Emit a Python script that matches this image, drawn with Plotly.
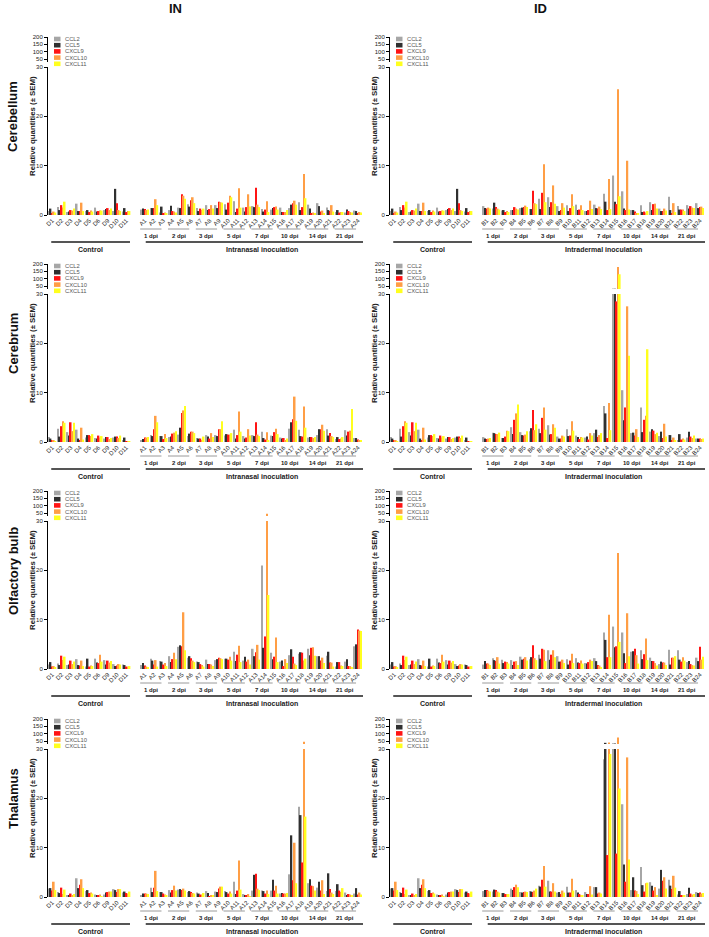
import plotly.graph_objects as go

W, H = 709, 937
FONT = "Arial, Liberation Sans, sans-serif"

SERIES = ["CCL2", "CCL5", "CXCL9", "CXCL10", "CXCL11"]
COLORS = ["#A6A6A6", "#303030", "#FF1414", "#FF9E45", "#FFFF1E"]

CONTROL_LABELS = ["D1", "D2", "D3", "D4", "D5", "D6", "D9", "D10", "D11"]
IN_LABELS = ["A1", "A2", "A3", "A4", "A5", "A6", "A7", "A8", "A9", "A10", "A11", "A12",
             "A13", "A14", "A15", "A16", "A17", "A18", "A19", "A20", "A21", "A22", "A23", "A24"]
ID_LABELS = ["B1", "B2", "B3", "B4", "B5", "B6", "B7", "B8", "B9", "B10", "B11", "B12",
             "B13", "B14", "B15", "B16", "B17", "B18", "B19", "B20", "B21", "B22", "B23", "B24"]
DPI_LABELS = ["1 dpi", "2 dpi", "3 dpi", "5 dpi", "7 dpi", "10 dpi", "14 dpi", "21 dpi"]
REGIONS = ["Cerebellum", "Cerebrum", "Olfactory bulb", "Thalamus"]
COLUMN_TITLES = ["IN", "ID"]
GROUP_NAMES = ["Intranasal inoculation", "Intradermal inoculation"]
Y_TICKS_LOW = [0, 10, 20, 30]
Y_TICKS_HIGH = [50, 100, 150, 200]

# each tuple: (CCL2, CCL5, CXCL9, CXCL10, CXCL11)
cerebellum_ctrl = [
    (0.8, 1.3, 0.4, 0.7, 0.5), (1.6, 1.0, 2.0, 1.5, 2.7), (0.6, 0.7, 1.0, 0.9, 1.3),
    (2.3, 0.8, 0.8, 2.5, 0.8), (0.8, 1.0, 0.6, 0.9, 0.7), (1.5, 0.7, 0.8, 0.9, 0.9),
    (1.0, 1.2, 1.4, 1.0, 1.3), (0.8, 5.3, 2.4, 1.0, 0.8), (0.7, 1.4, 0.6, 0.8, 0.8),
]
cerebellum_in = [
    (1.1, 1.3, 1.2, 1.0, 1.1), (1.4, 1.4, 1.4, 3.2, 2.0), (0.5, 1.7, 0.3, 0.5, 0.4),
    (1.0, 1.9, 0.8, 0.7, 0.5), (1.5, 1.4, 4.2, 3.9, 3.3), (2.2, 1.7, 3.0, 3.6, 2.4),
    (1.4, 0.8, 1.3, 1.0, 1.3), (2.0, 1.0, 1.2, 2.0, 1.3), (2.0, 1.4, 2.7, 2.6, 2.5),
    (2.2, 1.1, 2.5, 3.9, 3.6), (2.8, 0.6, 1.3, 5.4, 1.5), (1.5, 0.7, 1.6, 4.2, 1.7),
    (1.8, 1.6, 5.5, 2.1, 1.6), (1.2, 0.7, 1.1, 2.8, 0.6), (1.1, 1.4, 1.6, 1.7, 1.1),
    (1.5, 0.6, 0.6, 0.6, 1.0), (1.4, 2.1, 2.4, 2.9, 2.1), (2.6, 1.0, 1.6, 8.3, 3.4),
    (2.1, 1.3, 0.4, 0.5, 0.4), (2.4, 1.8, 0.7, 0.9, 0.4), (1.5, 1.0, 0.8, 2.0, 0.7),
    (0.6, 1.0, 0.5, 0.6, 0.6), (0.5, 1.1, 0.8, 0.6, 0.5), (0.9, 0.8, 0.4, 0.6, 0.5),
]
cerebellum_id = [
    (1.8, 1.4, 1.3, 1.5, 1.3), (1.3, 2.5, 1.6, 1.3, 1.1), (0.9, 1.0, 0.6, 0.8, 0.6),
    (1.0, 1.0, 1.6, 1.3, 1.1), (1.4, 1.5, 1.6, 1.9, 1.6), (1.2, 1.2, 4.9, 2.4, 2.2),
    (3.3, 1.2, 4.5, 10.3, 2.6), (3.6, 1.6, 2.6, 6.0, 2.3), (1.8, 0.8, 1.0, 2.4, 1.5),
    (2.0, 0.8, 1.4, 4.2, 1.8), (2.1, 1.0, 1.1, 2.0, 1.0), (0.8, 0.8, 1.0, 2.9, 1.2),
    (2.1, 1.4, 1.3, 1.7, 1.2), (4.3, 2.7, 1.0, 7.3, 1.2), (8.0, 2.7, 2.2, 25.5, 3.8),
    (4.8, 1.3, 1.0, 11.0, 1.1), (1.0, 1.0, 0.7, 0.4, 0.4), (2.0, 0.6, 0.7, 0.5, 0.8),
    (2.6, 1.0, 2.2, 2.3, 1.3), (1.3, 0.8, 0.8, 1.3, 0.9), (3.7, 1.0, 0.4, 2.4, 0.6),
    (1.8, 1.1, 1.1, 1.1, 0.8), (2.0, 1.3, 1.8, 1.5, 1.4), (2.4, 1.4, 1.6, 1.7, 1.4),
]
cerebrum_ctrl = [
    (1.0, 0.7, 0.3, 0.3, 0.2), (2.7, 1.1, 3.2, 4.2, 3.9), (2.0, 1.3, 4.0, 2.2, 3.9),
    (2.5, 0.7, 0.4, 2.9, 0.5), (0.9, 1.4, 1.4, 1.2, 1.6), (0.8, 0.7, 1.3, 0.9, 1.2),
    (0.7, 1.0, 1.0, 0.6, 0.8), (0.9, 1.1, 1.1, 0.8, 1.3), (0.3, 0.9, 0.2, 0.2, 0.2),
]
cerebrum_in = [
    (0.4, 0.6, 0.9, 0.9, 1.0), (1.4, 1.2, 2.6, 5.3, 4.0), (1.2, 1.2, 0.6, 1.6, 0.8),
    (1.0, 1.1, 1.7, 1.9, 2.2), (1.5, 2.9, 5.9, 6.4, 7.3), (1.2, 1.7, 2.1, 2.1, 1.8),
    (0.8, 0.7, 0.7, 0.4, 1.1), (1.4, 1.1, 0.7, 1.8, 1.0), (1.4, 1.2, 2.6, 2.6, 4.2),
    (1.3, 1.6, 1.5, 1.5, 1.8), (2.5, 0.7, 1.4, 6.2, 2.1), (1.2, 0.7, 0.9, 2.6, 1.3),
    (1.4, 1.2, 4.0, 1.5, 1.2), (2.1, 0.8, 0.5, 2.0, 0.4), (1.3, 1.2, 2.0, 2.7, 1.6),
    (0.9, 0.7, 0.8, 0.3, 0.7), (2.7, 4.0, 4.6, 9.2, 4.3), (2.5, 1.2, 1.1, 7.2, 2.9),
    (0.9, 1.0, 1.0, 0.8, 1.0), (1.4, 2.6, 2.6, 3.5, 2.3), (2.6, 1.3, 1.8, 1.2, 1.0),
    (0.6, 1.0, 0.6, 0.7, 1.0), (2.4, 1.3, 2.1, 2.3, 6.7), (0.8, 0.8, 0.5, 0.3, 0.3),
]
cerebrum_id = [
    (1.0, 0.7, 0.6, 0.7, 0.8), (1.9, 1.8, 1.6, 1.6, 1.9), (0.8, 0.8, 1.1, 2.3, 2.2),
    (3.0, 1.6, 4.5, 5.8, 7.6), (2.0, 1.4, 1.3, 1.5, 2.2), (2.2, 2.8, 6.5, 2.4, 3.6),
    (2.7, 1.8, 4.9, 7.0, 2.5), (3.4, 1.5, 1.6, 3.6, 2.9), (1.1, 0.7, 0.7, 1.3, 1.1),
    (2.6, 1.2, 1.3, 4.2, 2.3), (1.3, 1.0, 0.6, 1.0, 0.9), (0.9, 1.1, 0.5, 1.8, 1.3),
    (1.8, 2.5, 1.0, 1.4, 1.8), (7.3, 5.8, 0.8, 7.9, 2.4), (33.0, 31.0, 28.5, 180.0, 130.0),
    (10.5, 4.4, 7.0, 27.5, 17.5), (1.8, 1.9, 1.3, 2.6, 1.0), (7.0, 2.0, 4.5, 5.3, 18.8),
    (2.1, 2.6, 2.3, 1.6, 1.9), (1.2, 2.1, 0.8, 3.7, 1.1), (1.4, 1.4, 0.3, 0.9, 0.4),
    (0.3, 1.6, 0.5, 0.7, 0.5), (0.9, 2.1, 1.1, 0.8, 1.3), (0.7, 0.7, 0.7, 0.6, 0.7),
]
olfactory_ctrl = [
    (0.9, 1.4, 0.5, 0.6, 0.4), (1.1, 0.8, 2.7, 1.8, 2.5), (0.8, 0.9, 1.7, 1.0, 1.5),
    (2.0, 0.8, 0.7, 1.7, 0.6), (0.5, 2.1, 0.5, 0.7, 0.6), (2.1, 1.3, 1.2, 2.9, 1.5),
    (1.8, 0.9, 1.7, 1.3, 1.6), (1.0, 0.6, 0.7, 1.0, 0.9), (0.9, 0.8, 0.5, 0.5, 0.6),
]
olfactory_in = [
    (0.8, 1.2, 0.7, 0.5, 0.3), (2.1, 1.7, 0.9, 1.8, 0.5), (1.6, 1.5, 0.9, 1.2, 0.6),
    (2.6, 1.4, 2.0, 3.3, 2.0), (4.5, 4.8, 4.6, 11.5, 3.8), (2.3, 2.6, 2.2, 1.7, 1.4),
    (1.5, 1.4, 1.0, 0.8, 0.5), (1.9, 1.0, 1.0, 0.9, 0.6), (1.8, 2.0, 2.3, 2.2, 2.0),
    (2.1, 2.1, 1.9, 2.5, 1.7), (3.5, 1.6, 2.9, 4.7, 1.4), (1.7, 2.5, 1.5, 1.9, 0.9),
    (4.1, 2.6, 3.4, 4.9, 1.9), (21.0, 4.3, 6.6, 45.0, 15.0), (3.3, 2.0, 2.5, 6.4, 1.4),
    (1.5, 1.7, 0.6, 2.0, 1.2), (2.8, 4.0, 2.5, 1.1, 0.8), (3.1, 3.4, 3.3, 1.7, 2.1),
    (4.1, 2.8, 4.3, 4.4, 2.7), (2.6, 2.6, 1.7, 2.3, 1.2), (2.7, 3.5, 1.3, 1.3, 0.5),
    (0.5, 1.4, 1.4, 0.7, 0.6), (1.5, 2.0, 0.6, 0.6, 0.4), (4.6, 5.0, 8.0, 7.8, 7.7),
]
olfactory_id = [
    (0.9, 1.6, 1.1, 1.1, 0.8), (2.2, 1.8, 1.6, 2.4, 1.1), (1.9, 1.2, 1.5, 1.4, 1.1),
    (1.8, 0.8, 1.5, 1.6, 0.8), (2.5, 1.9, 2.1, 2.4, 1.7), (2.0, 2.4, 4.8, 2.2, 1.8),
    (2.9, 2.1, 4.1, 3.9, 1.6), (3.8, 1.9, 2.9, 3.8, 2.4), (2.6, 1.5, 1.5, 1.9, 1.2),
    (2.0, 0.9, 1.7, 3.1, 1.2), (2.2, 1.3, 1.2, 1.7, 1.1), (1.2, 1.1, 1.4, 1.9, 1.6),
    (2.2, 1.6, 0.8, 0.7, 0.4), (7.4, 5.9, 2.4, 11.0, 2.4), (8.6, 4.4, 4.6, 23.5, 5.5),
    (7.4, 3.2, 1.2, 11.3, 2.6), (3.5, 3.6, 4.1, 2.8, 1.1), (3.8, 2.0, 3.0, 6.2, 1.8),
    (2.3, 1.6, 1.6, 1.2, 0.7), (1.0, 1.5, 1.3, 1.3, 0.8), (3.9, 0.9, 2.3, 2.3, 2.6),
    (3.8, 1.9, 1.5, 2.4, 1.7), (1.4, 1.6, 1.0, 0.8, 0.7), (2.3, 1.6, 4.5, 1.9, 2.5),
]
thalamus_ctrl = [
    (1.7, 1.8, 1.3, 3.1, 1.4), (1.0, 0.8, 1.9, 0.6, 1.5), (0.4, 0.4, 0.7, 0.3, 0.6),
    (3.8, 1.8, 2.5, 3.6, 1.8), (1.2, 1.4, 0.8, 0.9, 0.7), (0.5, 0.3, 0.3, 0.5, 0.2),
    (0.5, 0.9, 1.0, 1.1, 1.1), (1.6, 1.4, 1.0, 1.6, 1.6), (0.9, 1.1, 0.8, 0.7, 1.1),
]
thalamus_in = [
    (0.4, 0.7, 0.7, 0.7, 0.6), (1.9, 1.0, 1.9, 5.3, 1.2), (1.0, 1.0, 0.7, 0.5, 0.4),
    (1.4, 0.9, 1.4, 2.3, 1.3), (1.5, 1.6, 1.4, 1.7, 1.3), (1.0, 1.2, 1.0, 0.8, 0.7),
    (0.9, 0.7, 0.5, 0.5, 0.8), (1.2, 0.8, 0.2, 0.4, 0.3), (1.1, 1.0, 1.7, 2.1, 2.1),
    (1.2, 1.0, 0.7, 1.1, 0.7), (3.1, 0.6, 1.3, 7.4, 1.5), (0.6, 0.4, 0.4, 0.6, 0.2),
    (1.3, 4.5, 4.7, 1.7, 1.4), (1.3, 1.2, 0.7, 1.3, 0.6), (1.3, 3.5, 1.3, 2.3, 0.7),
    (0.7, 0.8, 0.7, 0.7, 0.8), (4.6, 12.5, 3.4, 11.0, 2.8), (18.3, 16.6, 7.0, 45.0, 16.3),
    (2.8, 3.6, 2.3, 2.2, 1.3), (1.9, 3.1, 1.3, 3.4, 0.6), (1.2, 4.8, 1.6, 0.9, 0.6),
    (1.2, 2.6, 1.3, 1.0, 1.8), (0.9, 0.3, 0.6, 0.5, 0.4), (0.7, 1.8, 0.5, 0.9, 0.5),
]
thalamus_id = [
    (1.2, 1.4, 1.4, 1.3, 1.1), (1.1, 1.5, 1.4, 1.1, 0.9), (0.8, 0.8, 0.6, 0.6, 0.6),
    (1.7, 1.4, 2.0, 2.5, 2.0), (1.0, 0.9, 1.0, 1.1, 1.0), (1.2, 1.1, 1.0, 1.3, 1.7),
    (2.3, 2.1, 3.5, 6.3, 2.1), (3.3, 1.1, 1.1, 2.8, 1.1), (0.9, 1.0, 0.6, 1.3, 0.9),
    (2.1, 0.9, 0.9, 3.7, 1.3), (1.4, 0.9, 0.6, 0.4, 0.3), (1.0, 0.6, 0.6, 2.2, 0.5),
    (2.0, 2.0, 0.7, 0.9, 0.7), (27.9, 38.0, 8.5, 40.0, 29.0), (35.0, 33.0, 8.8, 75.0, 22.0),
    (18.8, 6.6, 3.1, 28.3, 7.6), (1.4, 4.0, 1.3, 1.2, 0.6), (6.1, 2.4, 1.1, 2.8, 2.9),
    (3.0, 2.3, 1.3, 2.0, 0.3), (1.7, 5.5, 3.3, 4.0, 1.7), (3.5, 2.3, 1.6, 4.3, 1.9),
    (0.5, 1.2, 0.4, 0.4, 0.4), (0.6, 1.9, 0.7, 0.5, 0.6), (1.0, 0.8, 0.9, 0.7, 0.8),
]

CTRL = [cerebellum_ctrl, cerebrum_ctrl, olfactory_ctrl, thalamus_ctrl]
INOC = [[cerebellum_in, cerebellum_id], [cerebrum_in, cerebrum_id],
        [olfactory_in, olfactory_id], [thalamus_in, thalamus_id]]
INOC_LABELS = [IN_LABELS, ID_LABELS]

# ---- layout geometry (window pixels) ----
ROW_Y0 = [215, 442, 669, 897]     # pixel of value 0
COL_X = [(48, 363), (390, 705)]   # x domain of each column
SEG = 148                          # 0..30 segment height
GAP = 5                            # break gap
TOP = 25                           # 30..200 segment height
XR = [-0.45, 33.55]


def px(x):
    return x / W


def py(y):
    return 1 - y / H


fig = go.Figure()
layout = {}
annotations = []
shapes = []
n_ctrl = len(CONTROL_LABELS)

for r, region in enumerate(REGIONS):
    y0 = ROW_Y0[r]
    y30 = y0 - SEG
    y200 = y30 - GAP - TOP
    for c in range(2):
        p = r * 2 + c
        xa = p + 1
        yl, yu = 2 * p + 1, 2 * p + 2
        xname = "x" if xa == 1 else f"x{xa}"
        ylname = "y" if yl == 1 else f"y{yl}"
        yuname = f"y{yu}"
        inoc_labels = INOC_LABELS[c]
        rows = CTRL[r] + INOC[r][c]
        xs = list(range(n_ctrl)) + [n_ctrl + 1 + i for i in range(len(inoc_labels))]
        for s, name in enumerate(SERIES):
            vals = [row[s] for row in rows]
            for yname in (ylname, yuname):
                fig.add_trace(go.Bar(
                    x=xs, y=vals, name=name, xaxis=xname, yaxis=yname,
                    marker=dict(color=COLORS[s], line=dict(width=0)),
                    showlegend=False, hovertemplate=name + ": %{y}<extra></extra>"))

        xl, xr = COL_X[c]
        layout["xaxis" if xa == 1 else f"xaxis{xa}"] = dict(
            domain=[px(xl), px(xr)], range=XR, anchor=ylname,
            tickvals=xs, ticktext=CONTROL_LABELS + inoc_labels,
            tickangle=-45, tickfont=dict(size=6, family=FONT, color="#222"),
            showline=False, showgrid=False, zeroline=False, ticks="", fixedrange=True)
        layout["yaxis" if yl == 1 else f"yaxis{yl}"] = dict(
            domain=[py(y0), py(y30)], range=[0, 30], anchor=xname,
            tickvals=Y_TICKS_LOW, showline=True, linecolor="#000", linewidth=1,
            ticks="outside", ticklen=3, tickwidth=1, tickcolor="#000",
            tickfont=dict(size=6, family=FONT, color="#222"),
            showgrid=False, zeroline=False)
        layout[f"yaxis{yu}"] = dict(
            domain=[py(y30 - GAP), py(y200)], range=[30, 200], anchor=xname,
            tickvals=Y_TICKS_HIGH, showline=True, linecolor="#000", linewidth=1,
            ticks="outside", ticklen=3, tickwidth=1, tickcolor="#000",
            tickfont=dict(size=6, family=FONT, color="#222"),
            showgrid=False, zeroline=False)

        # y title
        annotations.append(dict(
            text="<b>Relative quantities (± SEM)</b>", x=px(xl - 16), y=py((y200 + y0) / 2),
            xref="paper", yref="paper", textangle=-90, showarrow=False,
            font=dict(size=7.8, family=FONT, color="#222"), xanchor="center", yanchor="middle"))

        # legend (manual, compact)
        for s, name in enumerate(SERIES):
            cy = y200 + 2 + 6.2 * s
            shapes.append(dict(type="rect", xref="paper", yref="paper",
                               x0=px(xl + 6), x1=px(xl + 12.5), y0=py(cy + 2.3), y1=py(cy - 2.3),
                               fillcolor=COLORS[s], line=dict(width=0)))
            annotations.append(dict(
                text=name, x=px(xl + 16), y=py(cy), xref="paper", yref="paper",
                showarrow=False, xanchor="left", yanchor="middle", borderpad=0,
                font=dict(size=5.8, family=FONT, color="#555")))

        xref = xname
        # dpi sub-groups
        for g, lab in enumerate(DPI_LABELS):
            mid = n_ctrl + 1 + 3 * g + 1 - 0.35
            shapes.append(dict(type="line", xref=xref, yref="paper",
                               x0=mid - 1.15, x1=mid + 1.15, y0=py(y0 + 14), y1=py(y0 + 14),
                               line=dict(color="#9a9a9a", width=1)))
            annotations.append(dict(
                text=f"<b>{lab}</b>", x=mid, y=py(y0 + 20.5), xref=xref, yref="paper",
                showarrow=False, xanchor="center", yanchor="middle",
                font=dict(size=6, family=FONT, color="#222")))
        # main groups
        lbl_y = y0 + 34
        shapes.append(dict(type="line", xref=xref, yref="paper",
                           x0=-0.1, x1=n_ctrl - 0.6, y0=py(y0 + 27), y1=py(y0 + 27),
                           line=dict(color="#555", width=2)))
        annotations.append(dict(
            text="<b>Control</b>", x=(n_ctrl - 0.7) / 2, y=py(lbl_y), xref=xref, yref="paper",
            showarrow=False, xanchor="center", yanchor="middle", borderpad=0,
            font=dict(size=7, family=FONT, color="#222")))
        shapes.append(dict(type="line", xref=xref, yref="paper",
                           x0=n_ctrl + 1.1, x1=XR[1], y0=py(y0 + 27), y1=py(y0 + 27),
                           line=dict(color="#555", width=2)))
        annotations.append(dict(
            text=f"<b>{GROUP_NAMES[c]}</b>", x=(n_ctrl + 1.1 + XR[1]) / 2 + 0.8, y=py(lbl_y + 0.5),
            xref=xref, yref="paper", showarrow=False, xanchor="center", yanchor="middle",
            borderpad=0, font=dict(size=7, family=FONT, color="#222")))

    # row label
    annotations.append(dict(
        text=f"<b>{region}</b>", x=px(13), y=py((ROW_Y0[r] - SEG - GAP - TOP + ROW_Y0[r]) / 2 - 9),
        xref="paper", yref="paper", textangle=-90, showarrow=False,
        font=dict(size=13, family=FONT, color="#111"), xanchor="center", yanchor="middle"))

for c, t in enumerate(COLUMN_TITLES):
    annotations.append(dict(
        text=f"<b>{t}</b>", x=px([175, 540][c]), y=py(9), xref="paper", yref="paper",
        showarrow=False, xanchor="center", yanchor="middle", borderpad=0,
        font=dict(size=13, family=FONT, color="#111")))

fig.update_layout(
    width=W, height=H, autosize=False, template="none",
    margin=dict(l=0, r=0, t=0, b=0),
    paper_bgcolor="white", plot_bgcolor="white",
    barmode="group", bargap=0.12, bargroupgap=0,
    showlegend=False, annotations=annotations, shapes=shapes,
    font=dict(family=FONT),
    **layout)

# remove the default page margin so the figure sits at the window's top-left corner
fig.write_html("out.html",
               config={"displayModeBar": False},
               post_script="document.documentElement.style.margin='0';"
                           "document.body.style.margin='0';"
                           "document.body.style.overflow='hidden';")
